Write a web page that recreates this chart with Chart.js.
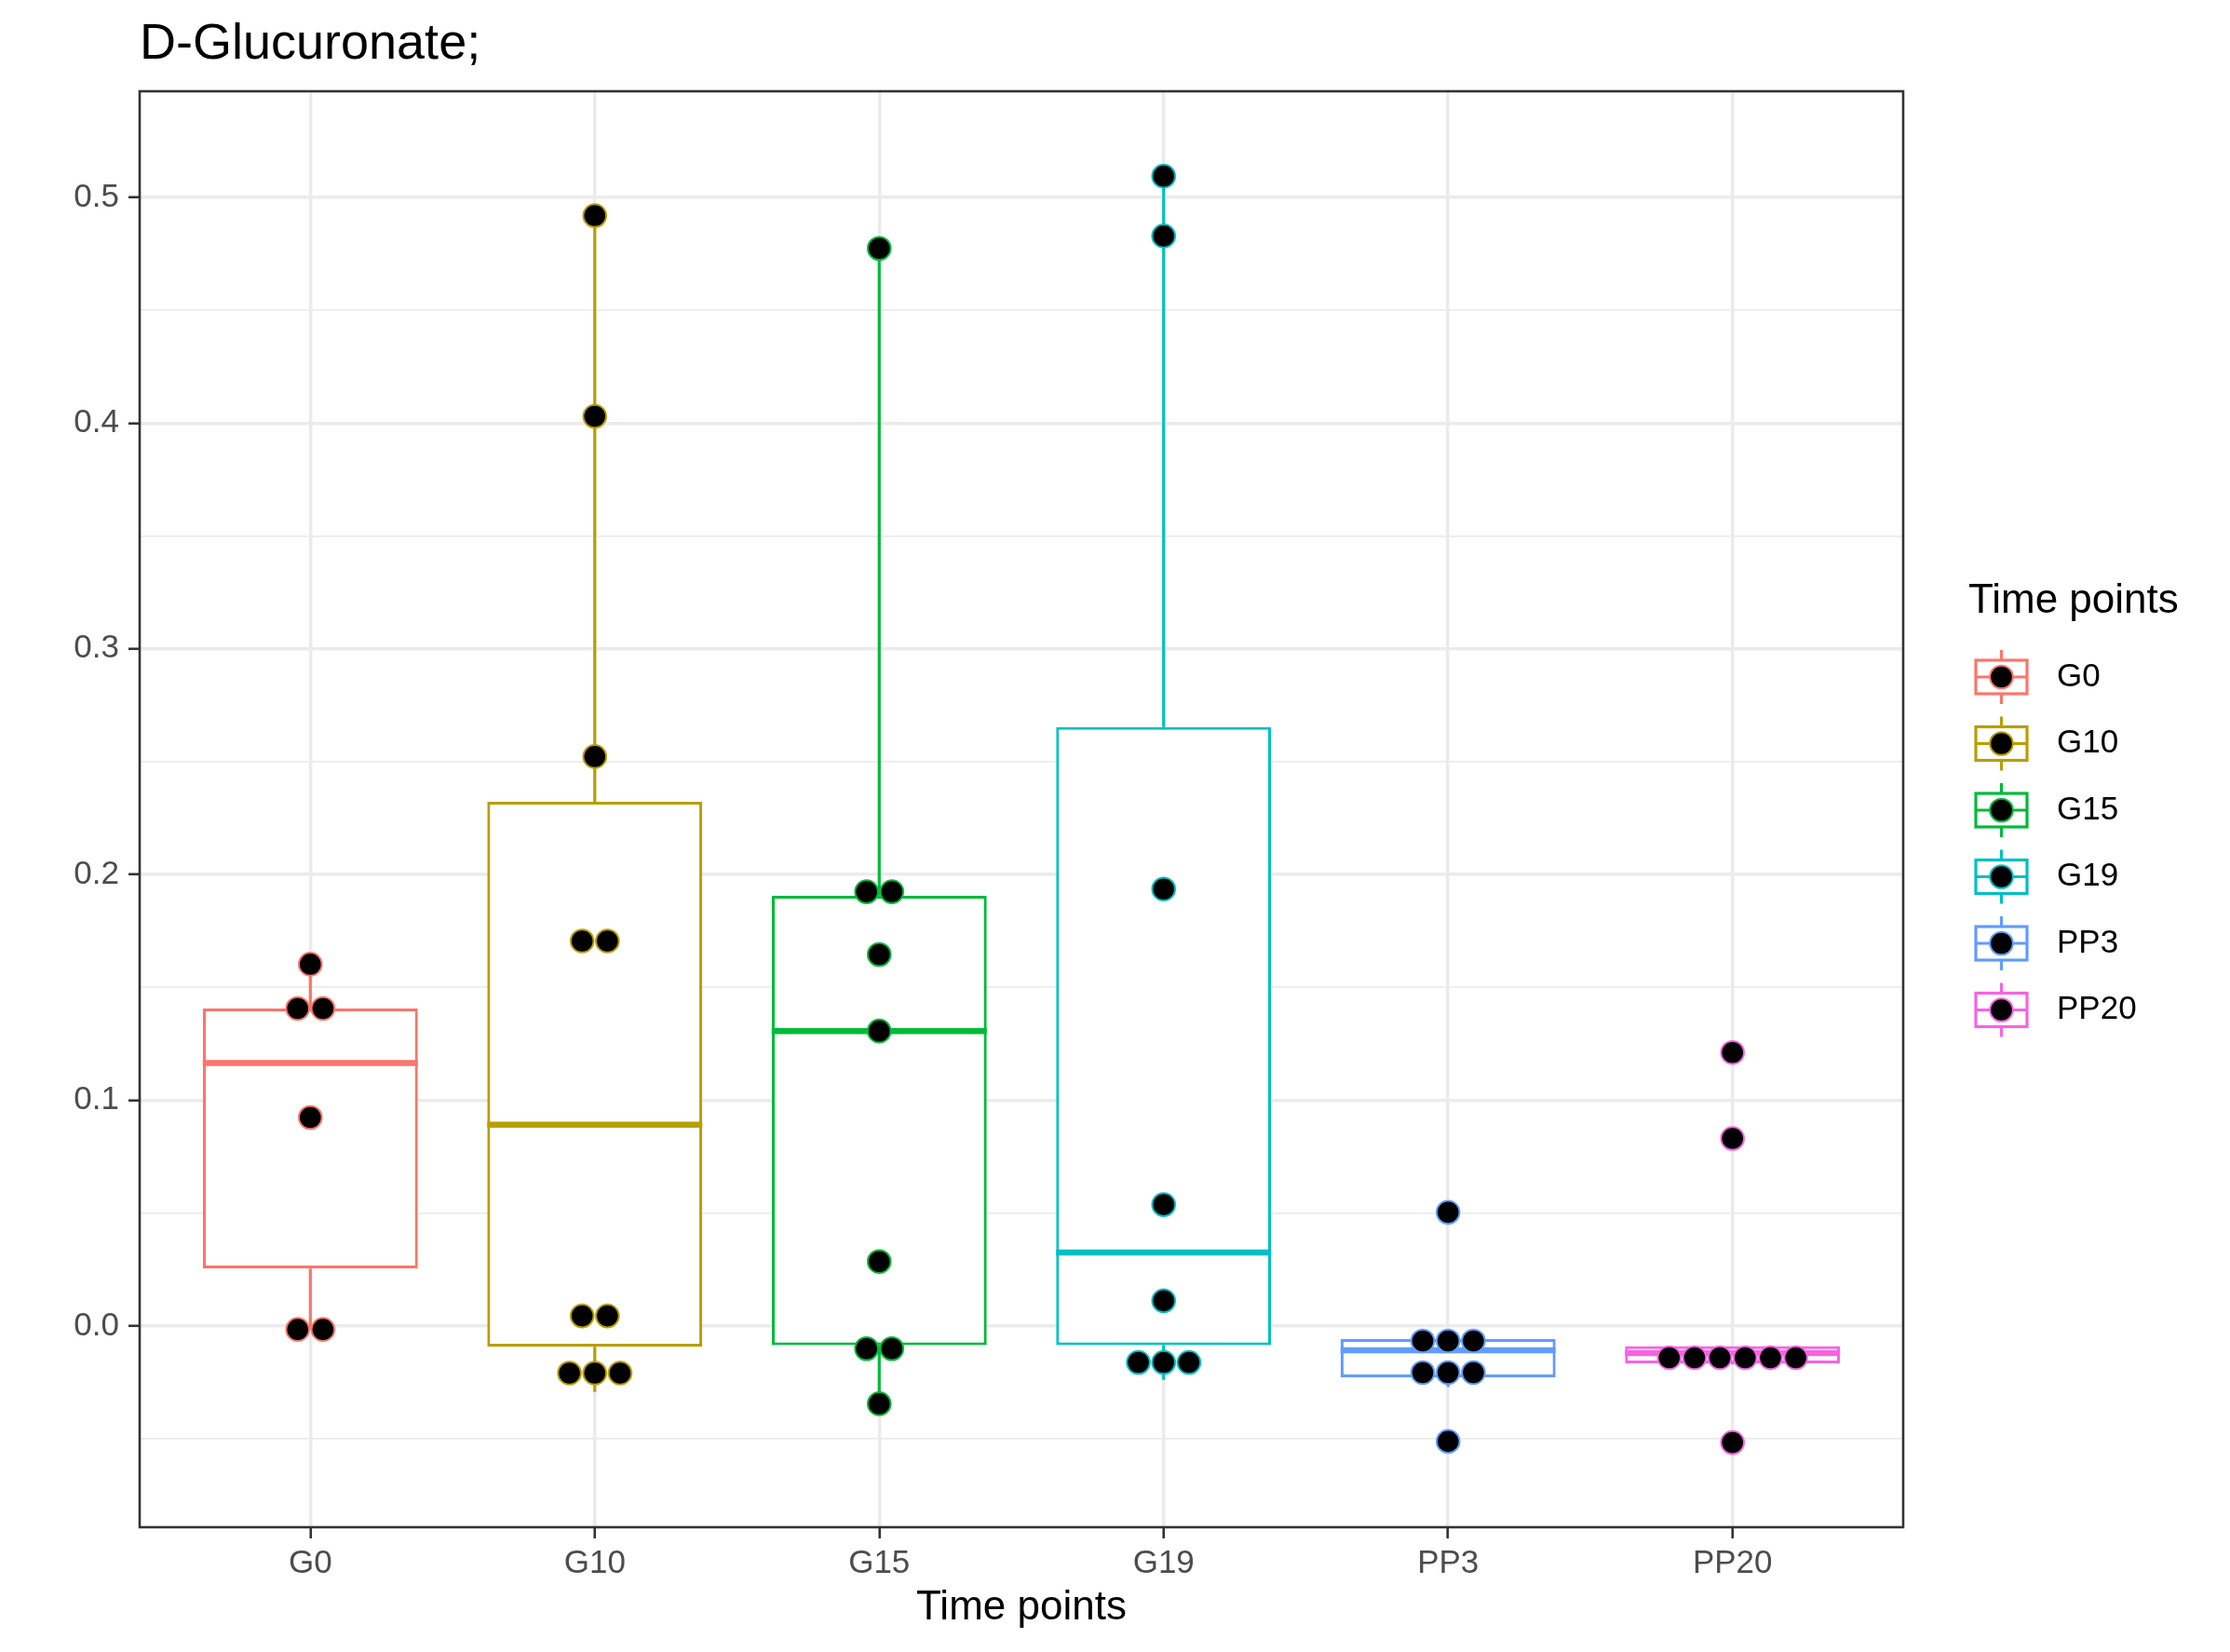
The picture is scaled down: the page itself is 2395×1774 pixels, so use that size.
<!DOCTYPE html>
<html>
<head>
<meta charset="utf-8">
<title>D-Glucuronate;</title>
<script src="https://cdn.jsdelivr.net/npm/chart.js@4.4.1/dist/chart.umd.min.js"></script>
<style>
  html, body { margin: 0; padding: 0; background: #ffffff; }
</style>
</head>
<body>
<canvas id="chart" width="2395" height="1774"></canvas>
<script>
const groups = ['G0', 'G10', 'G15', 'G19', 'PP3', 'PP20'];
const groupColors = ['#F8766D', '#B79F00', '#00BA38', '#00BFC4', '#619CFF', '#F564E3'];

// box statistics
const whiskerLow    = [-0.0015, -0.0292, -0.0344, -0.0238, -0.0270, -0.0170];
const lowerQuartile = [ 0.0255, -0.0092, -0.0085, -0.0085, -0.0227, -0.0165];
const medians       = [ 0.1165,  0.0892,  0.1307,  0.0326, -0.0107, -0.0120];
const upperQuartile = [ 0.1407,  0.2322,  0.1907,  0.2654, -0.0058, -0.0089];
const whiskerHigh   = [ 0.1603,  0.4919,  0.4774,  0.5094, -0.0058, -0.0089];

// dot plot values (dots stacked side by side repeat their value)
const dotsG0   = [0.1603, 0.1407, 0.1407, 0.0924, -0.0015, -0.0015];
const dotsG10  = [0.4919, 0.4030, 0.2523, 0.1706, 0.1706, 0.0045, 0.0045, -0.0208, -0.0208, -0.0208];
const dotsG15  = [0.4774, 0.1924, 0.1924, 0.1646, 0.1307, 0.0286, -0.0100, -0.0100, -0.0344];
const dotsG19  = [0.5094, 0.4829, 0.1936, 0.0538, 0.0112, -0.0161, -0.0161, -0.0161];
const dotsPP3  = [0.0504, -0.0066, -0.0066, -0.0066, -0.0206, -0.0206, -0.0206, -0.0511];
const dotsPP20 = [0.1212, 0.0831, -0.0140, -0.0140, -0.0140, -0.0140, -0.0140, -0.0140, -0.0516];
const dotValues = [dotsG0, dotsG10, dotsG15, dotsG19, dotsPP3, dotsPP20];

const yMajorTicks = [0.0, 0.1, 0.2, 0.3, 0.4, 0.5];
const yMinorTicks = [-0.05, 0.05, 0.15, 0.25, 0.35, 0.45];

const FONT = "'Liberation Sans', Arial, Helvetica, sans-serif";
const BOX_HALF = 0.378;   // half box width, in category units
const DOT_STEP = 0.089;   // horizontal spacing of stacked dots, in category units

function stackDots(vals, g) {
  const total = {}, used = {};
  vals.forEach(v => { total[v] = (total[v] || 0) + 1; });
  return vals.map(v => {
    const k = used[v] || 0;
    used[v] = k + 1;
    return { x: g + (k - (total[v] - 1) / 2) * DOT_STEP, y: v };
  });
}

const isMajor = v => yMajorTicks.some(t => Math.abs(t - v) < 1e-9);

const datasets = [];

// box bodies
datasets.push({
  type: 'bar',
  data: groups.map((_, g) => ({ x: g, y: [lowerQuartile[g], upperQuartile[g]] })),
  backgroundColor: '#FFFFFF',
  borderColor: groupColors,
  borderWidth: 3.2,
  borderSkipped: false,
  barPercentage: BOX_HALF * 2,
  categoryPercentage: 1,
  order: 3
});

groups.forEach((name, g) => {
  // whiskers
  datasets.push({
    type: 'line',
    data: [
      { x: g, y: whiskerLow[g] }, { x: g, y: lowerQuartile[g] }, { x: g, y: null },
      { x: g, y: upperQuartile[g] }, { x: g, y: whiskerHigh[g] }
    ],
    borderColor: groupColors[g],
    borderWidth: 3.2,
    pointRadius: 0,
    order: 4
  });
  // median
  datasets.push({
    type: 'line',
    data: [{ x: g - BOX_HALF, y: medians[g] }, { x: g + BOX_HALF, y: medians[g] }],
    borderColor: groupColors[g],
    borderWidth: 6.5,
    borderCapStyle: 'butt',
    pointRadius: 0,
    order: 2
  });
  // dots
  datasets.push({
    type: 'line',
    label: name,
    data: stackDots(dotValues[g], g),
    showLine: false,
    pointRadius: 12.3,
    pointBackgroundColor: '#000000',
    pointBorderColor: groupColors[g],
    pointBorderWidth: 2,
    order: 0
  });
});

const panelBorder = {
  id: 'panelBorder',
  afterDatasetsDraw(chart) {
    const { ctx, chartArea: a } = chart;
    ctx.save();
    ctx.strokeStyle = '#333333';
    ctx.lineWidth = 2.6;
    ctx.strokeRect(a.left, a.top, a.right - a.left, a.bottom - a.top);
    ctx.restore();
  }
};

const timeLegend = {
  id: 'timeLegend',
  afterDraw(chart) {
    const { ctx, chartArea: a } = chart;
    const mid = (a.top + a.bottom) / 2;
    const left = a.right + 70;
    ctx.save();
    ctx.fillStyle = '#000000';
    ctx.textBaseline = 'middle';
    ctx.textAlign = 'left';
    ctx.font = '44px ' + FONT;
    ctx.fillText('Time points', left, mid - 223);
    ctx.font = '35px ' + FONT;
    groups.forEach((name, g) => {
      const cy = mid - 142 + g * 71.5;
      const cx = left + 35.5;
      ctx.strokeStyle = groupColors[g];
      ctx.lineWidth = 3.2;
      ctx.beginPath();
      ctx.moveTo(cx, cy - 29); ctx.lineTo(cx, cy - 18);
      ctx.moveTo(cx, cy + 18); ctx.lineTo(cx, cy + 29);
      ctx.stroke();
      ctx.fillStyle = '#FFFFFF';
      ctx.fillRect(cx - 27.5, cy - 18, 55, 36);
      ctx.strokeRect(cx - 27.5, cy - 18, 55, 36);
      ctx.beginPath();
      ctx.moveTo(cx - 27.5, cy); ctx.lineTo(cx + 27.5, cy);
      ctx.stroke();
      ctx.beginPath();
      ctx.arc(cx, cy, 12.3, 0, Math.PI * 2);
      ctx.fillStyle = '#000000';
      ctx.fill();
      ctx.lineWidth = 2;
      ctx.stroke();
      ctx.fillStyle = '#000000';
      ctx.fillText(name, left + 95, cy);
    });
    ctx.restore();
  }
};

new Chart(document.getElementById('chart'), {
  type: 'bar',
  data: { datasets },
  plugins: [panelBorder, timeLegend],
  options: {
    responsive: false,
    animation: false,
    events: [],
    layout: { padding: { left: 0, right: 351, top: 0, bottom: 0 } },
    plugins: {
      legend: { display: false },
      tooltip: { enabled: false },
      title: {
        display: true,
        text: 'D-Glucuronate;',
        align: 'start',
        fullSize: false,
        color: '#000000',
        font: { family: FONT, size: 54, weight: 'normal', lineHeight: 1.2 },
        padding: { top: 15.5, bottom: 17.7 }
      }
    },
    scales: {
      x: {
        type: 'linear',
        min: -0.6,
        max: 5.6,
        offset: false,
        afterFit: s => { s.height = 134; },
        afterBuildTicks: s => { s.ticks = groups.map((_, g) => ({ value: g })); },
        border: { display: false },
        grid: {
          color: '#EBEBEB',
          lineWidth: 3.5,
          offset: false,
          tickColor: '#333333',
          tickWidth: 2.6,
          tickLength: 12
        },
        ticks: {
          color: '#4D4D4D',
          font: { family: FONT, size: 35 },
          padding: 6,
          maxRotation: 0,
          autoSkip: false,
          callback: v => groups[Math.round(v)]
        },
        title: {
          display: true,
          text: 'Time points',
          color: '#000000',
          font: { family: FONT, size: 44 },
          padding: { top: 0, bottom: 21 }
        }
      },
      y: {
        type: 'linear',
        min: -0.0891,
        max: 0.547,
        afterFit: s => { s.width = 150; },
        afterBuildTicks: s => {
          s.ticks = yMinorTicks.concat(yMajorTicks).sort((p, q) => p - q).map(v => ({ value: v }));
        },
        border: { display: false },
        grid: {
          color: '#EBEBEB',
          lineWidth: c => isMajor(c.tick.value) ? 3.5 : 1.8,
          tickColor: c => isMajor(c.tick.value) ? '#333333' : 'rgba(0,0,0,0)',
          tickWidth: 2.6,
          tickLength: 12
        },
        ticks: {
          color: '#4D4D4D',
          font: { family: FONT, size: 35 },
          padding: 10,
          autoSkip: false,
          callback: v => isMajor(v) ? v.toFixed(1) : ''
        }
      }
    }
  }
});
</script>
</body>
</html>
